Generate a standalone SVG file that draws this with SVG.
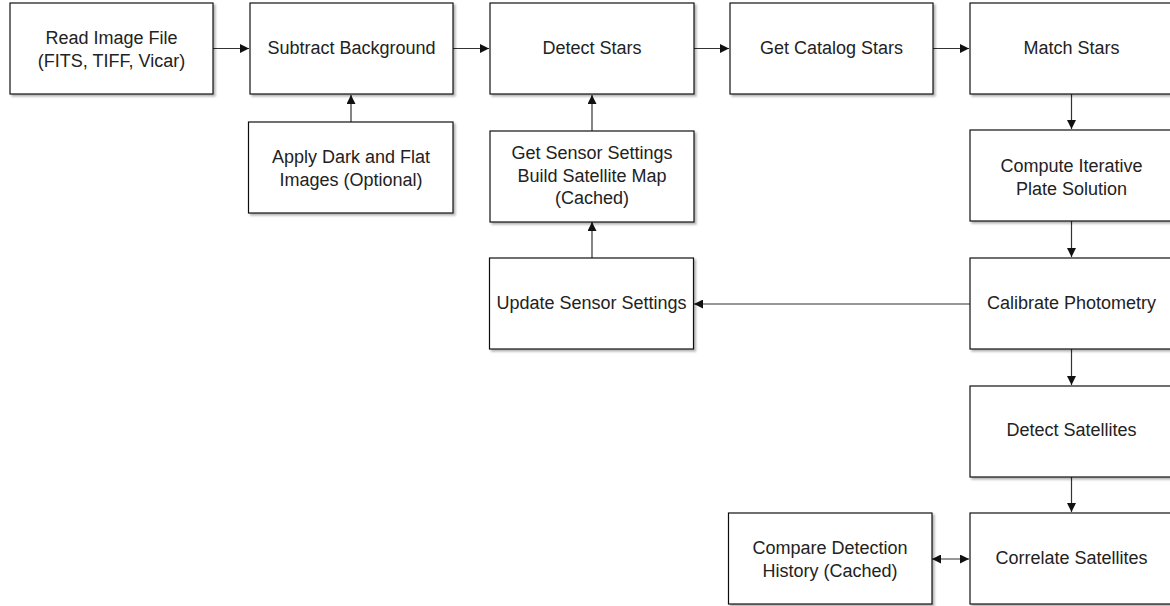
<svg xmlns="http://www.w3.org/2000/svg" width="1170" height="606" viewBox="0 0 1170 606">
<defs>
<filter id="sh" x="-10%" y="-10%" width="130%" height="130%">
<feDropShadow dx="2" dy="2" stdDeviation="1.2" flood-color="#000" flood-opacity="0.3"/>
</filter>
<marker id="ah" viewBox="0 0 10 10" refX="10" refY="5" markerWidth="9" markerHeight="9" markerUnits="userSpaceOnUse" orient="auto-start-reverse">
<path d="M0,0 L10,5 L0,10 z" fill="#111"/>
</marker>
<style>
.box rect{fill:#fff;stroke:#111;stroke-width:1.2;filter:url(#sh)}
.box text{font-family:"Liberation Sans",Arial,sans-serif;font-size:18px;fill:#222;text-anchor:middle}
.conn line{stroke:#333;stroke-width:1.2;fill:none;marker-end:url(#ah)}
</style>
</defs>
<rect width="1170" height="606" fill="#fff"/>
<g id="connectors" class="conn">
<line x1="213" y1="48.5" x2="249" y2="48.5"/>
<line x1="453" y1="48.5" x2="489" y2="48.5"/>
<line x1="694" y1="48.5" x2="729" y2="48.5"/>
<line x1="933" y1="48.5" x2="969" y2="48.5"/>
<line x1="1071.5" y1="94" x2="1071.5" y2="129"/>
<line x1="1071.5" y1="221" x2="1071.5" y2="257"/>
<line x1="1071.5" y1="349" x2="1071.5" y2="385"/>
<line x1="1071.5" y1="477" x2="1071.5" y2="512"/>
<line x1="351" y1="122" x2="351" y2="95"/>
<line x1="592" y1="131" x2="592" y2="95"/>
<line x1="592" y1="258" x2="592" y2="222"/>
<line x1="970" y1="304" x2="694" y2="304"/>
<line x1="932" y1="559" x2="969" y2="559" marker-start="url(#ah)"/>
</g>
<g id="read" class="box"><rect x="10" y="3" width="203" height="91"/><text x="111.5" y="43.5">Read Image File</text><text x="111.5" y="66.5">(FITS, TIFF, Vicar)</text></g>
<g id="subtract" class="box"><rect x="250" y="3" width="203" height="91"/><text x="351.5" y="53.5">Subtract Background</text></g>
<g id="detectstars" class="box"><rect x="490" y="3" width="204" height="91"/><text x="592" y="53.5">Detect Stars</text></g>
<g id="catalog" class="box"><rect x="730" y="3" width="203" height="91"/><text x="831.5" y="53.5">Get Catalog Stars</text></g>
<g id="match" class="box"><rect x="970" y="3" width="203" height="91"/><text x="1071.5" y="53.5">Match Stars</text></g>
<g id="apply" class="box"><rect x="248.5" y="122" width="204.5" height="91"/><text x="351" y="162.5">Apply Dark and Flat</text><text x="351" y="185.5">Images (Optional)</text></g>
<g id="sensor" class="box"><rect x="490" y="131" width="204" height="91"/><text x="592" y="158.5">Get Sensor Settings</text><text x="592" y="181.5">Build Satellite Map</text><text x="592" y="204">(Cached)</text></g>
<g id="update" class="box"><rect x="489.5" y="258" width="204" height="91"/><text x="591.5" y="309">Update Sensor Settings</text></g>
<g id="compute" class="box"><rect x="970" y="130" width="203" height="91"/><text x="1071.5" y="171.5">Compute Iterative</text><text x="1071.5" y="194.5">Plate Solution</text></g>
<g id="calibrate" class="box"><rect x="970" y="258" width="203" height="91"/><text x="1071.5" y="308.5">Calibrate Photometry</text></g>
<g id="detectsat" class="box"><rect x="970" y="386" width="203" height="91"/><text x="1071.5" y="435.5">Detect Satellites</text></g>
<g id="correlate" class="box"><rect x="970" y="513" width="203" height="91"/><text x="1071.5" y="563.5">Correlate Satellites</text></g>
<g id="compare" class="box"><rect x="728.5" y="513" width="203.5" height="91"/><text x="830" y="553.5">Compare Detection</text><text x="830" y="576.5">History (Cached)</text></g>
</svg>
